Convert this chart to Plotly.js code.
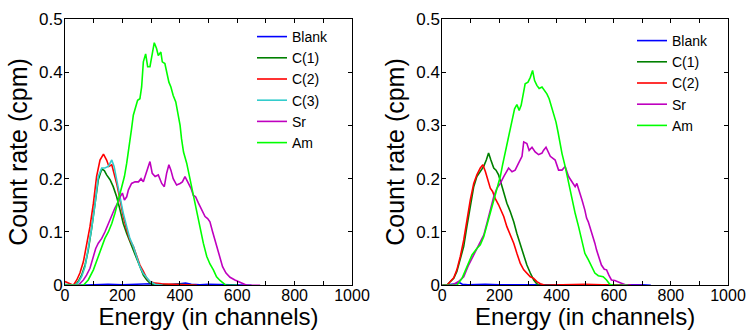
<!DOCTYPE html>
<html>
<head>
<meta charset="utf-8">
<script src="https://cdn.plot.ly/plotly-3.0.1.min.js"></script>
<style>html,body{margin:0;padding:0;background:#fff;}#chart{width:748px;height:330px;}</style>
</head>
<body>
<div id="chart"></div>
<script>
// ---- Data ----
var seriesNames = ['Blank', 'C(1)', 'C(2)', 'C(3)', 'Sr', 'Am'];
var xTickVals = [0, 100, 200, 300, 400, 500, 600, 700, 800, 900, 1000];
var xTickText = ['0', '', '200', '', '400', '', '600', '', '800', '', '1000'];
var yTickVals = [0, 0.1, 0.2, 0.3, 0.4, 0.5];
var yTickText = ['0', '0.1', '0.2', '0.3', '0.4', '0.5'];

// Left panel
var leftBlankX = [0, 50, 100, 150, 200, 250, 280, 300, 330, 360, 400, 420, 440, 470, 500, 550, 600, 650];
var leftBlankY = [0.001, 0, 0.001, 0.002, 0.001, 0.002, 0.004, 0.003, 0.002, 0.001, 0.003, 0.004, 0.002, 0.001, 0.002, 0.001, 0.001, 0];

var leftC1X = [0, 35, 46, 58, 70, 81, 93, 105, 116, 128, 137, 145, 157, 168, 180, 192, 203, 215, 226, 238, 250, 261, 273, 285, 296, 314, 350, 400, 450];
var leftC1Y = [0, 0, 0.007, 0.019, 0.038, 0.066, 0.107, 0.154, 0.198, 0.218, 0.215, 0.207, 0.198, 0.185, 0.166, 0.141, 0.116, 0.097, 0.082, 0.066, 0.047, 0.032, 0.019, 0.01, 0.004, 0, 0.001, 0.002, 0];

var leftC2X = [0, 17, 29, 41, 52, 64, 75, 87, 99, 110, 122, 134, 145, 153, 163, 172, 180, 192, 203, 215, 226, 238, 250, 261, 273, 285, 296, 314, 337, 380, 420, 460];
var leftC2Y = [0.007, 0.003, 0, 0.01, 0.023, 0.044, 0.073, 0.11, 0.154, 0.204, 0.235, 0.246, 0.235, 0.223, 0.226, 0.21, 0.191, 0.16, 0.129, 0.104, 0.085, 0.073, 0.054, 0.038, 0.026, 0.013, 0.007, 0.004, 0.003, 0.002, 0.001, 0];

var leftC3X = [0, 35, 46, 58, 70, 81, 93, 105, 116, 128, 139, 151, 163, 171, 180, 192, 203, 215, 226, 238, 250, 261, 273, 285, 296, 314, 340];
var leftC3Y = [0.002, 0, 0.005, 0.016, 0.035, 0.066, 0.107, 0.154, 0.204, 0.22, 0.22, 0.223, 0.235, 0.223, 0.198, 0.166, 0.135, 0.11, 0.088, 0.073, 0.054, 0.035, 0.022, 0.013, 0.007, 0.002, 0];

var leftSrX = [0, 46, 64, 75, 87, 99, 107, 116, 128, 139, 151, 163, 174, 186, 192, 200, 207, 215, 221, 232, 244, 256, 265, 273, 285, 296, 304, 314, 325, 337, 346, 354, 362, 369, 377, 389, 401, 409, 418, 424, 432, 439, 447, 455, 465, 476, 488, 497, 505, 514, 523, 531, 540, 549, 561, 575, 592, 604, 615, 633, 680];
var leftSrY = [0, 0, 0.01, 0.019, 0.032, 0.054, 0.069, 0.079, 0.088, 0.1, 0.116, 0.132, 0.145, 0.157, 0.166, 0.173, 0.16, 0.166, 0.179, 0.191, 0.194, 0.194, 0.2, 0.194, 0.216, 0.232, 0.21, 0.204, 0.207, 0.191, 0.185, 0.21, 0.226, 0.216, 0.2, 0.188, 0.191, 0.194, 0.204, 0.198, 0.191, 0.182, 0.169, 0.166, 0.154, 0.141, 0.129, 0.125, 0.119, 0.101, 0.085, 0.066, 0.051, 0.035, 0.023, 0.015, 0.01, 0.007, 0.003, 0, 0];

var leftAmX = [0, 50, 64, 81, 99, 116, 128, 139, 151, 163, 174, 186, 197, 207, 215, 221, 232, 238, 244, 253, 261, 267, 273, 281, 288, 296, 304, 311, 319, 325, 334, 339, 348, 354, 362, 369, 377, 386, 393, 401, 406, 413, 424, 436, 447, 459, 470, 482, 494, 505, 517, 528, 540, 551, 561, 600];
var leftAmY = [0, 0, 0, 0.01, 0.029, 0.054, 0.073, 0.088, 0.1, 0.116, 0.135, 0.16, 0.182, 0.204, 0.229, 0.25, 0.294, 0.319, 0.331, 0.347, 0.35, 0.372, 0.419, 0.434, 0.41, 0.41, 0.434, 0.455, 0.444, 0.431, 0.4375, 0.419, 0.416, 0.4, 0.381, 0.372, 0.356, 0.344, 0.325, 0.3, 0.275, 0.25, 0.229, 0.198, 0.166, 0.135, 0.104, 0.079, 0.054, 0.04, 0.029, 0.016, 0.009, 0.004, 0, 0];

// Right panel
var rightBlankX = [0, 30, 50, 60, 70, 90, 150, 200, 250, 300, 350, 400, 450, 500, 550, 600, 650, 700, 730];
var rightBlankY = [0, 0.001, 0.003, 0.005, 0.002, 0.001, 0.002, 0.001, 0.001, 0.001, 0.002, 0.001, 0.001, 0.001, 0.001, 0.001, 0.002, 0.001, 0];

var rightC1X = [0, 16, 28, 40, 51, 63, 75, 86, 98, 110, 121, 133, 145, 154, 162, 170, 180, 188, 197, 206, 215, 226, 238, 250, 261, 273, 285, 296, 308, 320, 329, 337, 400];
var rightC1Y = [0, 0, 0.007, 0.013, 0.026, 0.048, 0.073, 0.11, 0.151, 0.185, 0.204, 0.213, 0.223, 0.235, 0.248, 0.235, 0.22, 0.216, 0.207, 0.191, 0.173, 0.154, 0.138, 0.119, 0.097, 0.076, 0.057, 0.038, 0.023, 0.01, 0.004, 0, 0];

var rightC2X = [0, 16, 28, 40, 51, 63, 75, 86, 98, 110, 121, 133, 142, 151, 160, 168, 176, 185, 197, 206, 215, 226, 238, 250, 261, 273, 285, 296, 308, 320, 331, 343, 360, 420, 500, 560, 620, 660];
var rightC2Y = [0, 0, 0.007, 0.014, 0.029, 0.054, 0.085, 0.123, 0.16, 0.191, 0.207, 0.22, 0.226, 0.213, 0.198, 0.182, 0.176, 0.163, 0.151, 0.141, 0.129, 0.11, 0.094, 0.079, 0.06, 0.041, 0.029, 0.023, 0.016, 0.013, 0.007, 0.003, 0, 0.001, 0.002, 0.001, 0.001, 0];

var rightSrX = [0, 34, 57, 75, 92, 110, 121, 133, 145, 156, 168, 180, 191, 203, 215, 223, 232, 244, 255, 267, 279, 285, 296, 304, 314, 325, 337, 349, 354, 363, 370, 378, 395, 407, 419, 430, 442, 454, 465, 471, 477, 489, 499, 505, 511, 516, 522, 528, 534, 540, 548, 557, 567, 575, 583, 592, 604, 616, 627, 645, 700];
var rightSrY = [0, 0, 0.007, 0.016, 0.038, 0.057, 0.069, 0.079, 0.094, 0.116, 0.141, 0.166, 0.182, 0.191, 0.204, 0.213, 0.22, 0.213, 0.216, 0.229, 0.242, 0.269, 0.266, 0.253, 0.259, 0.25, 0.245, 0.248, 0.253, 0.259, 0.25, 0.242, 0.235, 0.216, 0.216, 0.223, 0.204, 0.195, 0.185, 0.191, 0.179, 0.16, 0.141, 0.126, 0.119, 0.11, 0.104, 0.091, 0.079, 0.066, 0.051, 0.038, 0.03, 0.029, 0.019, 0.01, 0.009, 0.007, 0.004, 0, 0];

var rightAmX = [0, 51, 69, 86, 104, 121, 133, 145, 156, 168, 180, 191, 203, 211, 220, 232, 238, 244, 253, 261, 269, 276, 285, 290, 300, 308, 316, 323, 331, 339, 349, 358, 366, 374, 381, 389, 398, 405, 413, 419, 430, 442, 454, 465, 477, 489, 499, 511, 522, 534, 546, 563, 575, 586, 598, 650];
var rightAmY = [0, 0, 0.013, 0.035, 0.057, 0.069, 0.076, 0.091, 0.113, 0.135, 0.157, 0.179, 0.204, 0.226, 0.25, 0.281, 0.294, 0.3125, 0.331, 0.339, 0.328, 0.3375, 0.3625, 0.378, 0.381, 0.39, 0.403, 0.384, 0.375, 0.369, 0.372, 0.366, 0.359, 0.35, 0.3375, 0.325, 0.306, 0.2875, 0.2625, 0.247, 0.223, 0.191, 0.16, 0.135, 0.11, 0.085, 0.06, 0.048, 0.035, 0.023, 0.018, 0.016, 0.01, 0.002, 0, 0];

// ---- Styles ----
var colors = {
  'Blank': '#0000ff',
  'C(1)': '#008000',
  'C(2)': '#ff0000',
  'C(3)': '#33cccc',
  'Sr': '#bf00bf',
  'Am': '#00ff00'
};
var FONT = 'Arial, "Liberation Sans", sans-serif';

function tr(name, x, y, xa, ya, leg) {
  return {
    type: 'scatter', mode: 'lines', name: name, x: x, y: y,
    xaxis: xa, yaxis: ya, legend: leg,
    line: {color: colors[name], width: 1.6},
    hoverinfo: 'skip'
  };
}

var data = [
  tr('Blank', leftBlankX, leftBlankY, 'x', 'y', 'legend'),
  tr('C(1)', leftC1X, leftC1Y, 'x', 'y', 'legend'),
  tr('C(2)', leftC2X, leftC2Y, 'x', 'y', 'legend'),
  tr('C(3)', leftC3X, leftC3Y, 'x', 'y', 'legend'),
  tr('Sr', leftSrX, leftSrY, 'x', 'y', 'legend'),
  tr('Am', leftAmX, leftAmY, 'x', 'y', 'legend'),
  tr('Blank', rightBlankX, rightBlankY, 'x2', 'y2', 'legend2'),
  tr('C(1)', rightC1X, rightC1Y, 'x2', 'y2', 'legend2'),
  tr('C(2)', rightC2X, rightC2Y, 'x2', 'y2', 'legend2'),
  tr('Sr', rightSrX, rightSrY, 'x2', 'y2', 'legend2'),
  tr('Am', rightAmX, rightAmY, 'x2', 'y2', 'legend2')
];

var W = 748, H = 330;
function xAxis(domain, anchor) {
  return {
    domain: domain, anchor: anchor, range: [0, 1000],
    tickmode: 'array', tickvals: xTickVals, ticktext: xTickText,
    ticks: 'inside', ticklen: 4, tickcolor: '#000', tickwidth: 1,
    showline: true, linecolor: '#000', linewidth: 1, mirror: 'ticks',
    showgrid: false, zeroline: false, ticklabelstandoff: -5,
    tickfont: {family: FONT, size: 16, color: '#000'},
    title: {text: 'Energy (in channels)', font: {family: FONT, size: 24, color: '#000'}, standoff: 8}
  };
}
function yAxis(anchor) {
  return {
    domain: [44.7 / H, 311.3 / H], anchor: anchor, range: [0, 0.5],
    tickmode: 'array', tickvals: yTickVals, ticktext: yTickText,
    ticks: 'inside', ticklen: 4, tickcolor: '#000', tickwidth: 1,
    showline: true, linecolor: '#000', linewidth: 1, mirror: 'ticks',
    showgrid: false, zeroline: false, ticklabelstandoff: -2,
    tickfont: {family: FONT, size: 17, color: '#000'},
    title: {text: 'Count rate (cpm)', font: {family: FONT, size: 25, color: '#000'}, standoff: 4}
  };
}

var layout = {
  width: W, height: H,
  margin: {l: 0, r: 0, t: 0, b: 0},
  paper_bgcolor: '#fff', plot_bgcolor: '#fff',
  font: {family: FONT, color: '#000'},
  showlegend: true,
  xaxis: xAxis([65 / W, 352 / W], 'y'),
  yaxis: yAxis('x'),
  xaxis2: xAxis([442.3 / W, 728 / W], 'y2'),
  yaxis2: yAxis('x2'),
  legend: {x: 252 / W, xanchor: 'left', y: (H - 21) / H, yanchor: 'top',
           bgcolor: 'rgba(0,0,0,0)', borderwidth: 0, font: {family: FONT, size: 14, color: '#000'}},
  legend2: {x: 632 / W, xanchor: 'left', y: (H - 25) / H, yanchor: 'top',
            bgcolor: 'rgba(0,0,0,0)', borderwidth: 0, font: {family: FONT, size: 14, color: '#000'}}
};

Plotly.newPlot('chart', data, layout, {staticPlot: true, displayModeBar: false});
</script>
</body>
</html>
